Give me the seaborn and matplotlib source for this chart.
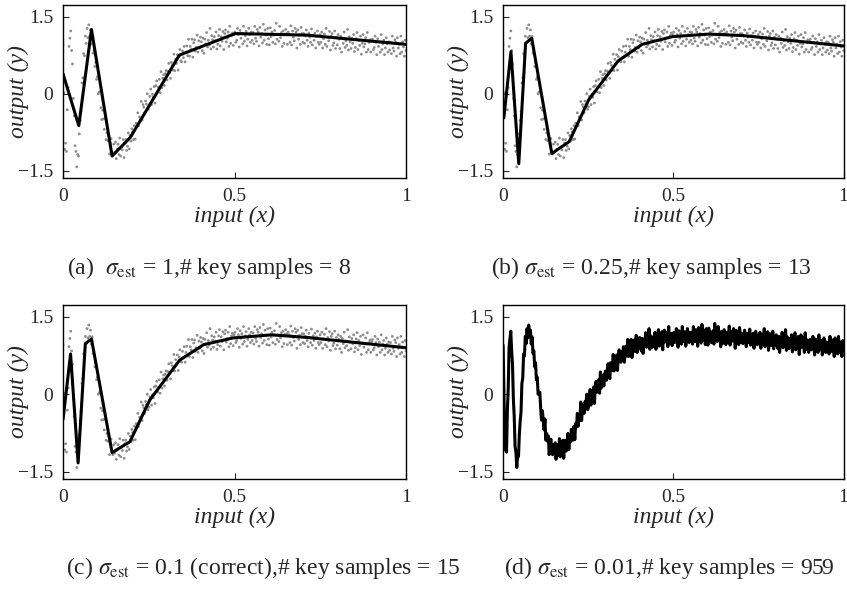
import numpy as np
import pandas as pd
import matplotlib
matplotlib.use("Agg")
import matplotlib.pyplot as plt
import seaborn as sns

noisy_y = [
    0.95, 0.02, -1.08, -0.96, -1.12, -0.31, 0.12, 0.92, 1.08, 1.22,
    0.84, 0.58, -0.09, -0.43, -1.01, -1.12, -1.42, -1.18, -1.21, -0.78,
    -0.52, -0.34, 0.21, 0.31, 0.78, 0.74, 1.12, 0.98, 1.27, 1.09,
    1.34, 1.12, 1.24, 0.97, 1.11, 0.79, 0.84, 0.53, 0.61, 0.28,
    0.33, 0.00, 0.03, 0.04, -0.27, -0.50, -0.32, -0.49, -0.69, -0.48,
    -0.89, -0.76, -0.91, -0.81, -1.17, -0.96, -0.87, -1.12, -1.17, -0.98,
    -1.14, -0.94, -1.26, -1.08, -0.98, -1.18, -0.86, -1.21, -1.03, -1.09,
    -0.89, -1.24, -0.96, -0.89, -1.10, -1.02, -0.76, -1.07, -0.81, -0.92,
    -0.68, -0.74, -0.89, -0.62, -0.88, -0.57, -0.63, -0.37, -0.62, -0.45,
    -0.50, -0.15, -0.51, -0.21, -0.26, -0.37, -0.14, -0.20, 0.00, -0.30,
    -0.25, -0.05, 0.09, -0.21, -0.01, -0.07, 0.14, -0.18, 0.16, 0.25,
    0.04, 0.13, 0.28, 0.02, 0.43, 0.12, 0.30, 0.37, 0.16, 0.39,
    0.45, 0.27, 0.44, 0.59, 0.41, 0.30, 0.61, 0.55, 0.46, 0.77,
    0.45, 0.67, 0.59, 0.76, 0.46, 0.72, 0.86, 0.64, 0.62, 0.83,
    0.70, 0.92, 0.62, 0.81, 0.93, 0.74, 1.06, 0.73, 0.92, 0.86,
    1.06, 0.71, 0.99, 1.05, 0.83, 0.90, 1.14, 0.81, 1.03, 0.89,
    1.10, 1.01, 0.84, 1.08, 0.79, 1.06, 0.97, 1.19, 0.91, 1.04,
    0.95, 1.27, 0.87, 1.13, 1.05, 0.91, 1.11, 1.03, 1.20, 0.87,
    0.96, 1.13, 1.25, 0.93, 1.11, 1.02, 1.21, 0.86, 1.17, 1.24,
    1.01, 1.08, 1.20, 0.92, 1.31, 0.98, 1.13, 1.18, 0.94, 1.15,
    1.20, 1.00, 1.04, 1.27, 1.15, 0.91, 1.23, 1.08, 1.17, 0.97,
    1.31, 1.02, 1.13, 1.21, 0.93, 1.06, 1.27, 1.15, 1.00, 1.20,
    1.04, 1.19, 0.97, 1.31, 1.08, 1.02, 1.25, 1.20, 0.93, 1.29,
    1.10, 1.17, 0.99, 1.35, 1.04, 1.24, 1.14, 0.96, 1.27, 1.07,
    0.95, 1.28, 1.11, 1.20, 1.00, 1.14, 1.23, 0.97, 1.37, 1.06,
    1.15, 1.02, 1.31, 1.09, 1.19, 0.92, 1.22, 0.98, 1.16, 1.25,
    1.17, 0.96, 1.20, 1.15, 1.00, 1.32, 0.95, 1.22, 1.10, 1.03,
    1.27, 1.20, 0.89, 1.24, 1.06, 1.14, 0.96, 1.29, 1.17, 1.00,
    1.17, 0.98, 1.12, 1.24, 1.04, 0.92, 1.18, 1.10, 1.00, 1.26,
    0.95, 1.13, 1.04, 1.18, 0.89, 1.11, 1.22, 1.00, 0.96, 1.15,
    1.00, 1.20, 0.89, 1.07, 1.16, 0.96, 1.27, 0.92, 1.10, 1.03,
    1.21, 0.85, 1.12, 1.17, 0.94, 0.99, 1.22, 0.88, 1.10, 0.95,
    1.15, 1.06, 0.88, 1.12, 0.81, 1.08, 0.98, 1.20, 0.90, 1.03,
    0.94, 1.25, 0.85, 1.11, 1.01, 0.88, 1.08, 0.98, 1.15, 0.82,
    0.90, 1.07, 1.19, 0.86, 1.04, 0.94, 1.12, 0.77, 0.98, 1.15,
    0.91, 0.97, 1.09, 0.81, 1.19, 0.86, 1.00, 1.05, 0.81, 1.02,
    1.06, 0.86, 0.90, 1.12, 1.00, 0.76, 1.07, 0.92, 1.01, 0.81,
    1.15, 0.86, 0.97, 1.04, 0.76, 0.89, 1.09, 0.97, 0.81, 1.01,
    0.85, 1.00, 0.78, 1.12, 0.89, 0.83, 1.05, 1.00, 0.73, 1.09,
    0.89, 0.96, 0.78, 1.12, 0.81, 1.01, 0.91, 0.73, 1.04, 0.84,
]
noisy_x = np.linspace(0, 1, len(noisy_y))

# key samples per panel
key_x_a = [0.0, 0.046, 0.083, 0.143, 0.196, 0.339, 0.502, 0.71, 1.0]
key_y_a = [0.39, -0.62, 1.25, -1.21, -0.85, 0.75, 1.17, 1.14, 0.96]

key_x_b = [0.002, 0.023, 0.046, 0.066, 0.084, 0.143, 0.194, 0.252, 0.338,
           0.408, 0.497, 0.604, 0.706, 1.0]
key_y_b = [-0.47, 0.82, -1.36, 0.98, 1.08, -1.16, -0.93, -0.11, 0.64,
           0.96, 1.11, 1.16, 1.13, 0.93]

key_x_c = [0.0, 0.022, 0.044, 0.065, 0.083, 0.143, 0.195, 0.253, 0.34,
           0.41, 0.496, 0.608, 0.71, 1.0]
key_y_c = [-0.49, 0.78, -1.33, 0.98, 1.07, -1.13, -0.92, -0.11, 0.66,
           0.96, 1.09, 1.15, 1.10, 0.90]

captions = [
    r"(a)  $\sigma_{\mathrm{est}}$ = 1,# key samples = 8",
    r"(b) $\sigma_{\mathrm{est}}$ = 0.25,# key samples = 13",
    r"(c) $\sigma_{\mathrm{est}}$ = 0.1 (correct),# key samples = 15",
    r"(d) $\sigma_{\mathrm{est}}$ = 0.01,# key samples = 959",
]

sns.set_style("ticks")
plt.rcParams["font.family"] = ["Liberation Serif", "DejaVu Serif"]
plt.rcParams["mathtext.fontset"] = "stix"

fig = plt.figure(figsize=(8.47, 5.92), dpi=100)
boxes = [
    [0.0744, 0.699, 0.405, 0.293],
    [0.594, 0.699, 0.402, 0.293],
    [0.0744, 0.191, 0.405, 0.294],
    [0.594, 0.191, 0.402, 0.294],
]
axes = [fig.add_axes(b) for b in boxes]

noisy = pd.DataFrame({"x": noisy_x, "y": noisy_y})
keys = [(key_x_a, key_y_a), (key_x_b, key_y_b), (key_x_c, key_y_c)]

for i, ax in enumerate(axes):
    if i < 3:
        sns.scatterplot(data=noisy, x="x", y="y", ax=ax, s=4, color="#8c8c8c",
                        edgecolor="none", legend=False)
        kx, ky = keys[i]
        sns.lineplot(x=kx, y=ky, ax=ax, color="black", linewidth=2.2,
                     sort=False, estimator=None)
    else:
        # every sample is a key sample here
        sns.lineplot(data=noisy, x="x", y="y", ax=ax, color="black",
                     linewidth=2.2, sort=False, estimator=None)

    ax.set_xlim(0, 1)
    ax.set_ylim(-1.64, 1.73)
    ax.set_xticks([0, 0.5, 1])
    ax.set_xticklabels(["0", "0.5", "1"])
    ax.set_yticks([-1.5, 0, 1.5])
    ax.set_yticklabels(["\u22121.5", "0", "1.5"])
    ax.tick_params(direction="in", length=4, width=0.8, labelsize=14, pad=7)
    for sp in ax.spines.values():
        sp.set_visible(True)
        sp.set_linewidth(1.0)
        sp.set_color("black")
    ax.set_xlabel("input (x)", fontsize=17, style="italic", labelpad=1)
    ax.set_ylabel("output (y)", fontsize=17, style="italic")
    ax.yaxis.set_label_coords(-0.1, 0.5)

fig.text(0.247, 0.547, captions[0], fontsize=17, ha="center", va="center")
fig.text(0.769, 0.547, captions[1], fontsize=17, ha="center", va="center")
fig.text(0.311, 0.041, captions[2], fontsize=17, ha="center", va="center")
fig.text(0.790, 0.041, captions[3], fontsize=17, ha="center", va="center")

fig.savefig("out.png", dpi=100)
